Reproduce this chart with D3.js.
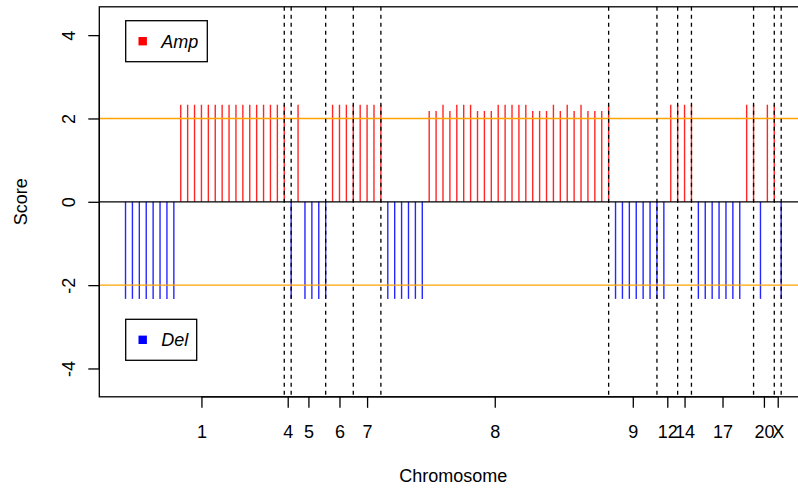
<!DOCTYPE html>
<html><head><meta charset="utf-8">
<script src="https://cdn.jsdelivr.net/npm/d3@7"></script>
<style>
body{margin:0;background:#fff}
svg{display:block}
text{font-family:"Liberation Sans",Arial,Helvetica,sans-serif}
</style>
</head><body>
<svg id="c" width="798" height="489"></svg>
<script>
// ---- data ----
const chromosomes = ["1","4","5","6","7","8","9","12","14","17","20","X"];
const segmentCounts = [24,1,5,4,4,33,7,3,2,9,3,1];
const scores = [
  // chr1
  -2.33,-2.33,-2.33,-2.33,-2.33,-2.33,-2.33,-2.33,
  2.33,2.33,2.33,2.33,2.33,2.33,2.33,2.33,2.33,2.33,2.33,2.33,2.33,2.33,2.33,2.33,
  // chr4
  -2.33,
  // chr5
  2.33,-2.33,-2.33,-2.33,-2.33,
  // chr6
  2.33,2.33,2.33,2.33,
  // chr7
  2.33,2.33,2.33,2.33,
  // chr8
  -2.33,-2.33,-2.33,-2.33,-2.33,-2.33,
  2.18,2.18,2.33,2.18,2.33,2.33,2.33,2.18,2.18,2.18,2.33,2.33,2.33,2.33,2.33,
  2.18,2.18,2.18,2.33,2.18,2.33,2.18,2.33,2.18,2.18,2.18,2.33,
  // chr9
  -2.33,-2.33,-2.33,-2.33,-2.33,-2.33,-2.33,
  // chr12
  -2.33,2.33,2.33,
  // chr14
  2.33,2.33,
  // chr17
  -2.33,-2.33,-2.33,-2.33,-2.33,-2.33,-2.33,2.33,2.33,
  // chr20
  -2.33,2.33,2.33,
  // X
  -2.33
];
const yTicks = [-4,-2,0,2,4];
const thresholds = [2,-2];
const legendLabels = ["Amp","Del"];
const legendColors = ["#ff0000","#0000ff"];

// ---- layout ----
const W = 798, H = 489;
const svg = d3.select("#c");
const x = d3.scaleLinear().domain([-2.8, 99.8]).range([99.3, 807.4]);
const y = d3.scaleLinear().domain([-4.68, 4.68]).range([396.8, 6.8]);
const [x0, x1] = x.range();
const [yb, yt] = y.range();

// cumulative boundaries
const bounds = d3.cumsum(segmentCounts);
const starts = [0, ...Array.from(bounds).slice(0, -1)];
const mids = starts.map((s, i) => (s + bounds[i]) / 2);

// bars
svg.append("g").selectAll("line").data(scores).join("line")
  .attr("x1", (d, i) => x(i + 1)).attr("x2", (d, i) => x(i + 1))
  .attr("y1", y(0)).attr("y2", d => y(d))
  .attr("stroke", d => d > 0 ? "#ff0000" : "#0000ff")
  .attr("stroke-width", 1.4)
  .attr("stroke-opacity", 0.85);

// threshold lines
svg.append("g").selectAll("line").data(thresholds).join("line")
  .attr("x1", x0).attr("x2", x1)
  .attr("y1", d => y(d)).attr("y2", d => y(d))
  .attr("stroke", "#ffa500").attr("stroke-width", 1.4);

// zero line
svg.append("line").attr("x1", x0).attr("x2", x1)
  .attr("y1", y(0)).attr("y2", y(0))
  .attr("stroke", "#000").attr("stroke-width", 1.3);

// chromosome boundaries
svg.append("g").selectAll("line").data(Array.from(bounds)).join("line")
  .attr("x1", d => x(d)).attr("x2", d => x(d))
  .attr("y1", yt).attr("y2", yb)
  .attr("stroke", "#000").attr("stroke-width", 1.3)
  .attr("stroke-dasharray", "4,4");

// box
svg.append("rect").attr("x", x0).attr("y", yt)
  .attr("width", x1 - x0).attr("height", yb - yt)
  .attr("fill", "none").attr("stroke", "#000").attr("stroke-width", 1.3);

// x axis
const xAxis = d3.axisBottom(x).tickValues(mids)
  .tickFormat((d, i) => chromosomes[i]).tickSize(11).tickPadding(17);
const gx = svg.append("g").attr("transform", `translate(0,${yb})`).call(xAxis);
gx.select(".domain").attr("d", `M${x(mids[0])},0H${x(mids[mids.length-1])}`).attr("stroke-width", 1.3);
gx.selectAll(".tick line").attr("stroke-width", 1.3);
gx.selectAll("text").attr("font-size", 18).attr("font-family", "Liberation Sans, Arial, sans-serif").attr("fill", "#000");

// y axis
const yAxis = d3.axisLeft(y).tickValues(yTicks).tickFormat(d3.format("d")).tickSize(11);
const gy = svg.append("g").attr("transform", `translate(${x0},0)`).call(yAxis);
gy.select(".domain").attr("d", `M0,${y(-4)}V${y(4)}`).attr("stroke-width", 1.3);
gy.selectAll(".tick line").attr("stroke-width", 1.3);
gy.selectAll("text")
  .attr("x", null).attr("dy", "0.35em")
  .attr("transform", "translate(-31,0) rotate(-90)")
  .attr("text-anchor", "middle")
  .attr("font-size", 18).attr("font-family", "Liberation Sans, Arial, sans-serif").attr("fill", "#000")
  .text(d => d < 0 ? "-" + Math.abs(d) : d);

// axis titles
svg.append("text").attr("x", (x0 + x1) / 2).attr("y", 482)
  .attr("text-anchor", "middle").attr("font-size", 18).text("Chromosome");
svg.append("text").attr("transform", `translate(27,${(yt + yb) / 2}) rotate(-90)`)
  .attr("text-anchor", "middle").attr("font-size", 18).text("Score");

// legends
const legendBoxes = [
  {x: 125.7, y: 20.7, w: 81.6, h: 41},
  {x: 125.7, y: 319.3, w: 71, h: 41}
];
legendLabels.forEach((lab, i) => {
  const b = legendBoxes[i];
  const g = svg.append("g");
  g.append("rect").attr("x", b.x).attr("y", b.y).attr("width", b.w).attr("height", b.h)
    .attr("fill", "#fff").attr("stroke", "#000").attr("stroke-width", 1.3);
  g.append("rect").attr("x", b.x + 12.8).attr("y", b.y + b.h / 2 - 4.2)
    .attr("width", 8.4).attr("height", 8.4).attr("fill", legendColors[i]);
  g.append("text").attr("x", b.x + 35.5).attr("y", b.y + b.h / 2 + 6.5)
    .attr("font-size", 18).attr("font-style", "italic").text(lab);
});
</script>
</body></html>
